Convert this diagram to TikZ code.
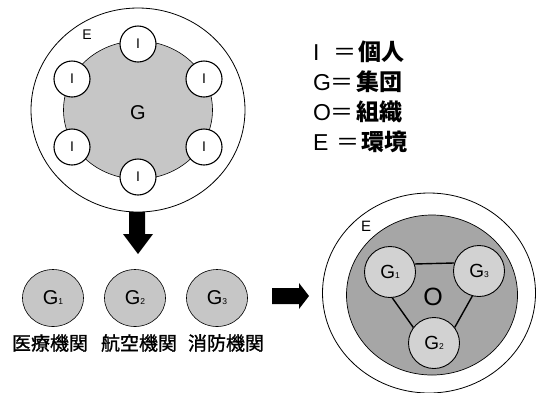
\documentclass[tikz,border=0pt]{standalone}
\usepackage{fontspec}
\setmainfont{Liberation Sans}
\newfontfamily\cjk{Noto Sans CJK JP}
\newfontfamily\cjkm[FakeBold=1.2]{Noto Sans CJK JP}
\usetikzlibrary{shapes.geometric}
\definecolor{lgray}{HTML}{C6C6C6}
\definecolor{ogray}{HTML}{A6A6A6}
\definecolor{sgray}{HTML}{D2D2D2}
\newcommand{\sub}[1]{{\fontsize{8.5}{9}\selectfont #1}}
\begin{document}
\begin{tikzpicture}[x=1pt,y=-1pt,
  env/.style={ellipse,draw,line width=0.8pt,inner sep=0pt,fill=white},
  grp/.style={ellipse,draw,line width=0.6pt,inner sep=0pt,fill=lgray},
  org/.style={ellipse,draw,line width=0.7pt,inner sep=0pt,fill=ogray},
  indiv/.style={circle,draw,line width=1.1pt,fill=white,inner sep=0pt,minimum size=36pt,font=\fontsize{14}{14}\selectfont},
  smallg/.style={circle,draw,line width=0.9pt,fill=sgray,inner sep=0pt,minimum size=51pt,font=\fontsize{19}{19}\selectfont},
  rowg/.style={ellipse,draw,line width=0.6pt,fill=lgray,inner sep=0pt,minimum width=61pt,minimum height=57pt,font=\fontsize{20}{20}\selectfont},
  lbl/.style={inner sep=0pt},
  leg/.style={inner sep=0pt,anchor=base west,font=\fontsize{23}{23}\selectfont},
  legeq/.style={inner sep=0pt,anchor=base,font=\fontsize{23}{23}\selectfont\cjk},
  legj/.style={inner sep=0pt,anchor=base west,font=\fontsize{23}{23}\selectfont\cjk\bfseries},
  rowl/.style={inner sep=0pt,font=\fontsize{19}{19}\selectfont\cjkm},
  link/.style={line width=1.4pt}]
\useasboundingbox (0,0) rectangle (537,392);

% ---------- left: individuals in a group ----------
\node[env,minimum width=214pt,minimum height=204pt] (envL) at (138,110) {};
\node[grp,minimum width=149pt,minimum height=138pt] (grpL) at (138,110) {};
\node[lbl,font=\fontsize{14}{14}\selectfont] (eL) at (87,35) {E};
\node[lbl,font=\fontsize{20}{20}\selectfont] (gL) at (138,113) {G};
\node[indiv] (i1) at (138,44) {I};
\node[indiv] (i2) at (72,79) {I};
\node[indiv] (i3) at (204,79) {I};
\node[indiv] (i4) at (72,147) {I};
\node[indiv] (i5) at (204,147) {I};
\node[indiv] (i6) at (138,177) {I};

% ---------- legend ----------
\node[leg] (k1) at (313,60) {I};
\node[legeq] (q1) at (345,60) {＝};
\node[legj] (j1) at (358,60) {個人};
\node[leg] (k2) at (313,90) {G};
\node[legeq] (q2) at (342,90) {＝};
\node[legj] (j2) at (356,90) {集団};
\node[leg] (k3) at (313,120) {O};
\node[legeq] (q3) at (342,120) {＝};
\node[legj] (j3) at (356,120) {組織};
\node[leg] (k4) at (313,150) {E};
\node[legeq] (q4) at (348,150) {＝};
\node[legj] (j4) at (361,150) {環境};

% ---------- down arrow ----------
\fill (129,212) -- (145,212) -- (145,234) -- (153,234) -- (138,254) -- (123,234) -- (129,234) -- cycle;

% ---------- row of groups ----------
\node[rowg] (ga) at (53,298) {G\sub{1}};
\node[rowg] (gb) at (135,298) {G\sub{2}};
\node[rowg] (gc) at (217,298) {G\sub{3}};
\node[rowl] (la) at (50,343) {医療機関};
\node[rowl] (lb) at (139,343) {航空機関};
\node[rowl] (lc) at (226,343) {消防機関};

% ---------- right arrow ----------
\fill (272,288) -- (299,288) -- (299,283) -- (309,296) -- (299,309) -- (299,304) -- (272,304) -- cycle;

% ---------- right: organisation ----------
\node[env,minimum width=213pt,minimum height=200pt] (envR) at (429,293) {};
\node[org,minimum width=171pt,minimum height=160pt] (orgR) at (432,295) {};
\node[lbl,font=\fontsize{15}{15}\selectfont] (eR) at (366,226) {E};
\node[lbl,font=\fontsize{25}{25}\selectfont] (oR) at (433,297) {O};
\node[smallg] (g1) at (390,272) {G\sub{1}};
\node[smallg] (g3) at (479,271) {G\sub{3}};
\node[smallg] (g2) at (434,343) {G\sub{2}};
\draw[link] (g1.18) -- (g3.162);
\draw[link] (g1.-85) -- (g2.143);
\draw[link] (g3.-105) -- (g2.37);
\end{tikzpicture}
\end{document}
